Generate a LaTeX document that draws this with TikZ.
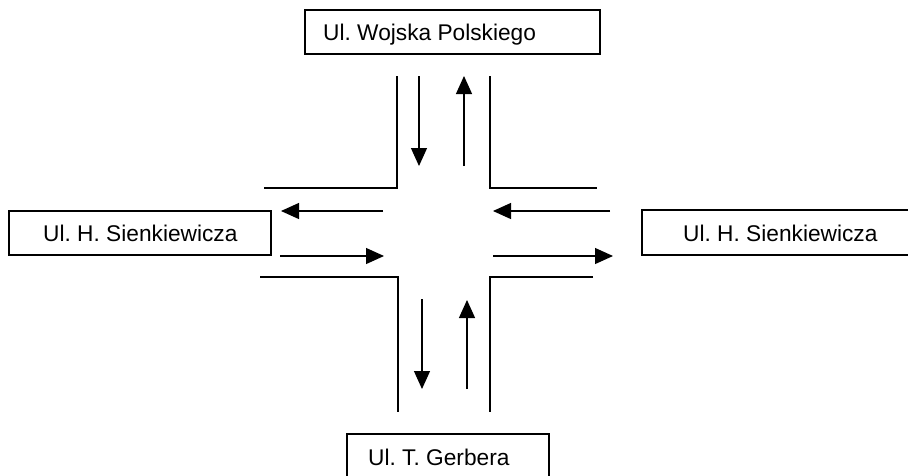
\documentclass[tikz,border=0pt]{standalone}
\usepackage{fontspec}
\setmainfont{Liberation Sans}
\usetikzlibrary{arrows.meta}
\frenchspacing
\begin{document}
\begin{tikzpicture}[x=1pt,y=-1pt,
  streetbox/.style={draw,line width=1.3pt,inner sep=0pt},
  streetname/.style={inner sep=0pt,anchor=base west,font=\fontsize{22.7pt}{26pt}\selectfont},
  kerb/.style={line width=1.2pt},
  flow/.style={line width=1.2pt,-{Triangle[length=18pt,width=16pt]}}]
\useasboundingbox (0,0) rectangle (908,475);

% street name boxes
\draw[streetbox] (305,10) rectangle (600,54);
\node[streetname] (north) at (323,40) {Ul. Wojska Polskiego};
\draw[streetbox] (9,211) rectangle (271,255);
\node[streetname] (west) at (43,241) {Ul. H. Sienkiewicza};
\begin{scope}
\clip (0,0) rectangle (908,475);
\draw[streetbox] (642,210) rectangle (940,255);
\draw[streetbox] (347,434) rectangle (549,500);
\end{scope}
\node[streetname] (east) at (683,241) {Ul. H. Sienkiewicza};
\node[streetname] (south) at (368,465) {Ul. T. Gerbera};

% kerb lines of the crossing
\coordinate (nwA) at (397,76);  \coordinate (nwB) at (397,188); \coordinate (nwC) at (264,188);
\coordinate (neA) at (490,76);  \coordinate (neB) at (490,188); \coordinate (neC) at (597,188);
\coordinate (swA) at (260,277); \coordinate (swB) at (398,277); \coordinate (swC) at (398,412);
\coordinate (seA) at (593,277); \coordinate (seB) at (490,277); \coordinate (seC) at (490,412);
\draw[kerb] (nwA) -- (nwB) -- (nwC);
\draw[kerb] (neA) -- (neB) -- (neC);
\draw[kerb] (swA) -- (swB) -- (swC);
\draw[kerb] (seA) -- (seB) -- (seC);

% traffic directions
\coordinate (n1s) at (419,76);  \coordinate (n1e) at (419,166);
\coordinate (n2s) at (464,166); \coordinate (n2e) at (464,76);
\coordinate (w1s) at (383,211); \coordinate (w1e) at (281,211);
\coordinate (w2s) at (280,256); \coordinate (w2e) at (384,256);
\coordinate (e1s) at (610,211); \coordinate (e1e) at (493,211);
\coordinate (e2s) at (493,256); \coordinate (e2e) at (613,256);
\coordinate (s1s) at (422,299); \coordinate (s1e) at (422,389);
\coordinate (s2s) at (467,389); \coordinate (s2e) at (467,300);
\draw[flow] (n1s) -- (n1e);
\draw[flow] (n2s) -- (n2e);
\draw[flow] (w1s) -- (w1e);
\draw[flow] (w2s) -- (w2e);
\draw[flow] (e1s) -- (e1e);
\draw[flow] (e2s) -- (e2e);
\draw[flow] (s1s) -- (s1e);
\draw[flow] (s2s) -- (s2e);
\end{tikzpicture}
\end{document}
